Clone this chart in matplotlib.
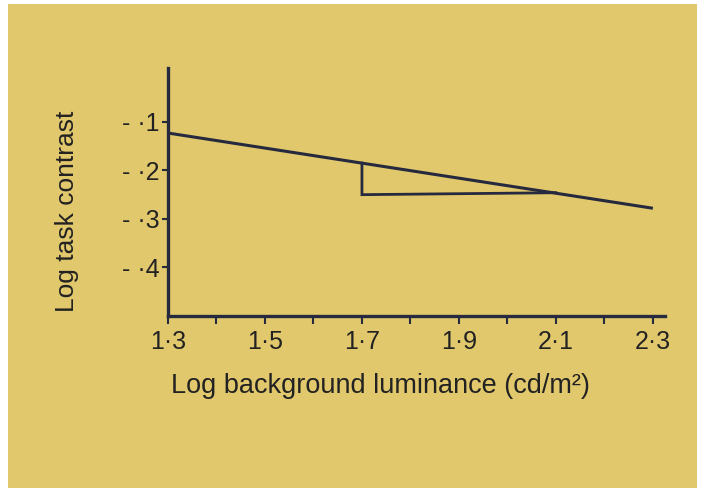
import matplotlib
matplotlib.use("Agg")
import matplotlib.pyplot as plt
from matplotlib.patches import Rectangle

# Data
main_x = [1.3, 2.3]
main_y = [-0.123, -0.278]
step_x = [1.7, 1.7, 2.1]
step_y = [-0.185, -0.25, -0.246]
xticks_major = [1.3, 1.5, 1.7, 1.9, 2.1, 2.3]
xtick_labels = ["1·3", "1·5", "1·7", "1·9", "2·1", "2·3"]
xticks_minor = [1.4, 1.6, 1.8, 2.0, 2.2]
yticks = [-0.1, -0.2, -0.3, -0.4]
ytick_labels = ["- ·1", "- ·2", "- ·3", "- ·4"]

plt.rcParams['font.family'] = ['Liberation Sans', 'DejaVu Sans']

BG = "#e2c86c"
INK = "#262a3e"

W, H = 704, 488
fig = plt.figure(figsize=(W / 100, H / 100), dpi=100, facecolor="white")
fig.patches.append(Rectangle((8 / W, 0), (697 - 8) / W, (488 - 4) / H,
                             transform=fig.transFigure, facecolor=BG,
                             edgecolor="none", zorder=-10))

left, right = 168 / W, 665 / W
bottom, top = 1 - 316 / H, 1 - 68 / H
ax = fig.add_axes([left, bottom, right - left, top - bottom])
ax.set_facecolor("none")
ax.set_zorder(5)

ax.plot(main_x, main_y, color=INK, lw=2.2, solid_capstyle="butt")
ax.plot(step_x, step_y, color=INK, lw=2.0, solid_joinstyle="miter")

ax.set_xlim(1.3, 2.325)
ax.set_ylim(-0.5, 0.011)

for s in ["top", "right"]:
    ax.spines[s].set_visible(False)
for s in ["left", "bottom"]:
    ax.spines[s].set_color(INK)
    ax.spines[s].set_linewidth(2.4)

ax.set_xticks(xticks_major)
ax.set_xticklabels(xtick_labels)
ax.set_xticks(xticks_minor, minor=True)
ax.set_yticks(yticks)
ax.set_yticklabels(ytick_labels)

ax.tick_params(axis="x", which="both", direction="out", length=6, width=1.5,
               color=INK, labelsize=18, labelcolor="#222222", pad=4)
ax.tick_params(axis="y", direction="out", length=4, width=1.5,
               color=INK, labelsize=18, labelcolor="#222222", pad=2)

fig.text(380 / W, 1 - 386 / H, "Log background luminance (cd/m²)",
         ha="center", va="center", fontsize=19.5, color="#222222", zorder=6)
fig.text(67 / W, 1 - 211 / H, "Log task contrast", rotation=90,
         ha="center", va="center", fontsize=19, color="#222222", zorder=6)

fig.savefig("out.png", dpi=100, facecolor="white")
